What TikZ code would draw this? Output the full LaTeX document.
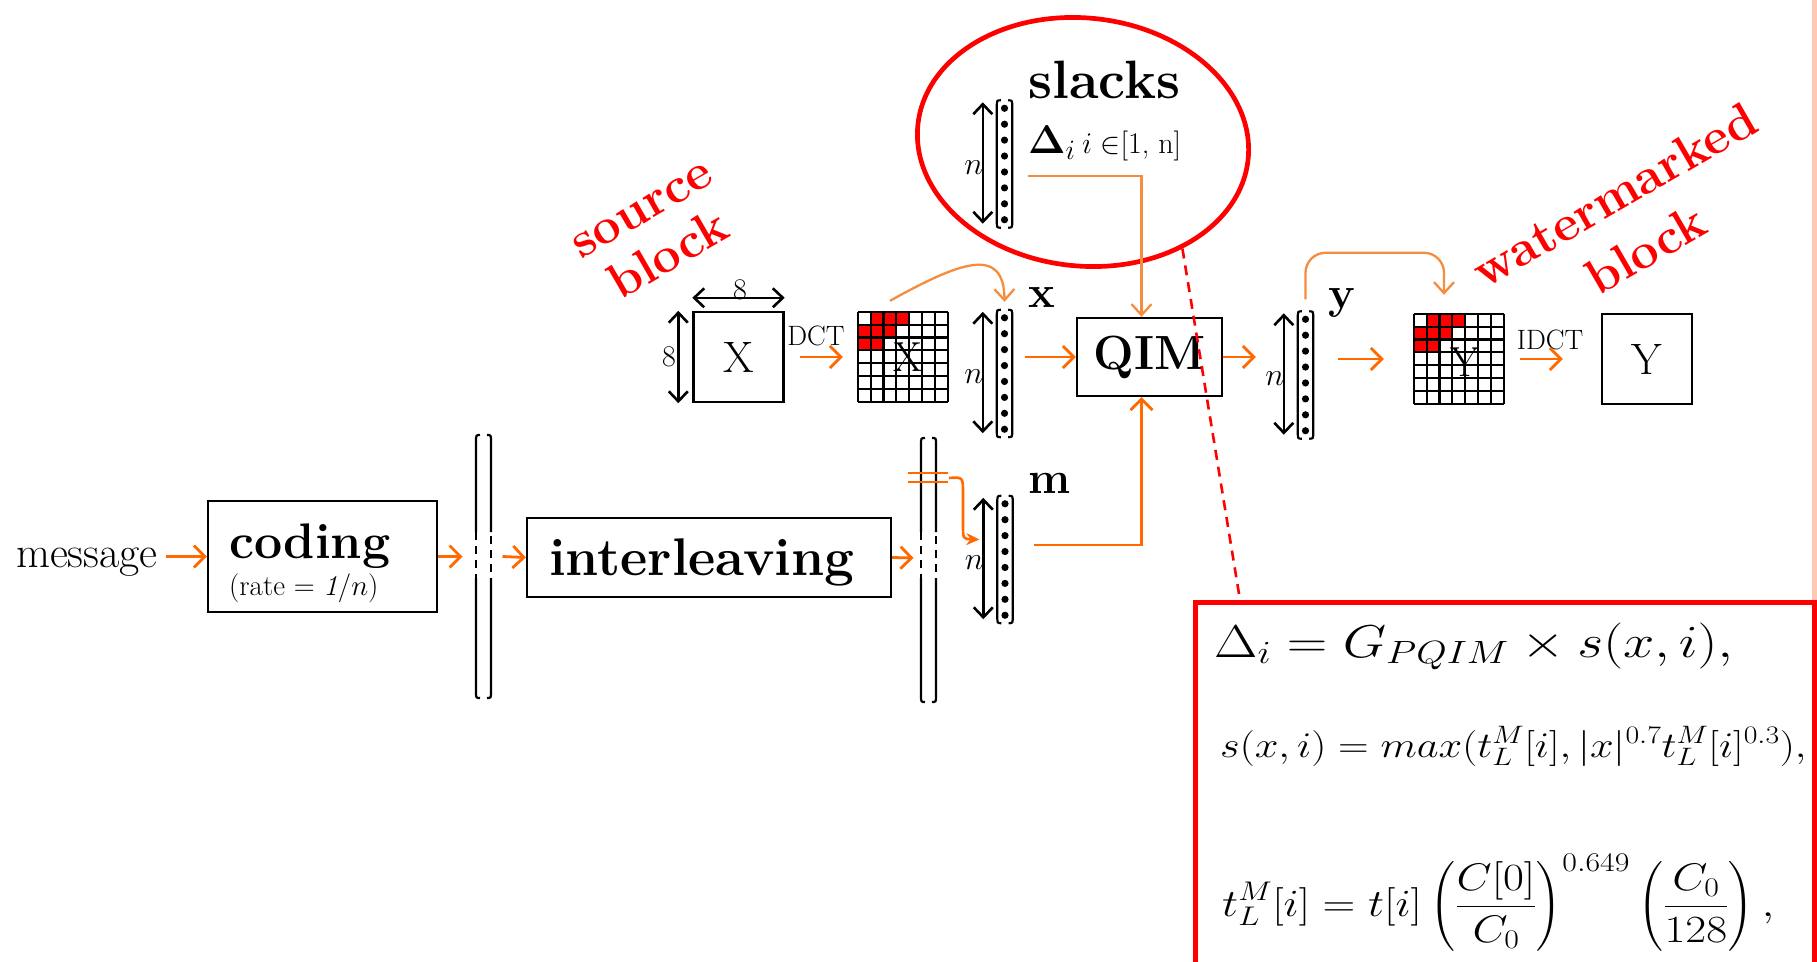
\RequirePackage{fix-cm}
\documentclass[tikz,border=0pt]{standalone}
\usepackage{amsmath}
\usepackage{graphicx}
\usepackage{tikz}
\usetikzlibrary{arrows.meta,calc,shapes.geometric}
\definecolor{cFlow}{RGB}{255,105,0}
\definecolor{cLink}{RGB}{246,140,62}
\definecolor{cMark}{RGB}{255,0,0}
\definecolor{cSlide}{RGB}{255,200,180}

\begin{document}
\begin{tikzpicture}[x=1pt, y=-1pt,
  flowarrow/.style={draw=cFlow, line width=2.8pt, -{Straight Barb[length=11pt,width=22pt]}},
  linkarrow/.style={draw=cLink, line width=2.3pt, -{Straight Barb[length=11pt,width=20pt]}},
  dimarrow/.style={line width=2.6pt, {Straight Barb[length=10pt,width=19pt]}-{Straight Barb[length=10pt,width=19pt]}},
  blockbox/.style={draw, line width=2.4pt, inner sep=0pt},
  parenline/.style={line width=2.2pt},
  gridline/.style={line width=2.2pt},
  vecbox/.style={inner sep=0pt, minimum width=15pt, minimum height=127pt},
  fBig/.style={font=\fontsize{50}{55}\selectfont\bfseries},
  fLab/.style={font=\fontsize{45}{48}\selectfont\bfseries},
  fLet/.style={font=\fontsize{44}{48}\selectfont},
  fMsg/.style={font=\fontsize{44}{48}\selectfont},
  fSm/.style={font=\fontsize{28}{32}\selectfont},
  fN/.style={font=\fontsize{32}{36}\selectfont},
]
  \useasboundingbox (0,0) rectangle (1817,961);

  % ---- slide edge ----
  \fill[cSlide] (1812,0) rectangle (1817,961);

  % ---- coding chain ----
  \node[fMsg, inner sep=8pt] (msg) at (87,562) {message};
  \node[blockbox, minimum width=229pt, minimum height=111pt] (coding) at (322.5,556.5) {};
  \node[fBig, anchor=base west, inner sep=0pt] (codingt) at (229,558) {coding};
  \node[font=\fontsize{29}{32}\selectfont, anchor=base west, inner sep=0pt] (rate) at (229,595) {(rate = \textit{1}/$n$)};
  \node[blockbox, minimum width=364pt, minimum height=79pt] (inter) at (709,557.5) {};
  \node[font=\fontsize{53}{58}\selectfont\bfseries, anchor=base west, inner sep=0pt] (intert) at (549,575) {interleaving};

  % ---- the two buses (double lines, dashed where crossed) ----
  \coordinate (gap1) at (483.5,556.5);
  \coordinate (gap2) at (928.5,558);
  \foreach \bx/\bt/\bb in {476/435/698, 921/438/702}{
    \draw[parenline] (\bx+4,\bt) .. controls (\bx,\bt) .. (\bx,\bt+7) -- (\bx,532);
    \draw[parenline, dash pattern=on 8pt off 6pt] (\bx,532) -- (\bx,578);
    \draw[parenline] (\bx,578) -- (\bx,\bb-7) .. controls (\bx,\bb) .. (\bx+4,\bb);
    \draw[parenline] (\bx+11,\bt) .. controls (\bx+15,\bt) .. (\bx+15,\bt+7) -- (\bx+15,532);
    \draw[parenline, dash pattern=on 8pt off 6pt] (\bx+15,536) -- (\bx+15,578);
    \draw[parenline] (\bx+15,578) -- (\bx+15,\bb-7) .. controls (\bx+15,\bb) .. (\bx+11,\bb);
  }

  \draw[flowarrow] (msg.east |- coding.west) -- (coding.west);
  \draw[flowarrow] (coding.east) -- ([xshift=-21pt]gap1);
  \draw[flowarrow] ([xshift=19pt]gap1) -- (inter.west);
  \draw[flowarrow] (inter.east) -- ([xshift=-15pt]gap2);

  % ---- column vectors ----
  \foreach \nm/\cx/\cy in {svec/1004.5/164, xvec/1004.5/373.5, mvec/1005/559.5, yvec/1305.5/375}{
    \node[vecbox] (\nm) at (\cx,\cy) {};
    \draw[parenline] ([xshift=4pt]\nm.north west) .. controls (\nm.north west) .. ([yshift=-7pt]\nm.north west)
      -- ([yshift=7pt]\nm.south west) .. controls (\nm.south west) .. ([xshift=4pt]\nm.south west);
    \draw[parenline] ([xshift=-4pt]\nm.north east) .. controls (\nm.north east) .. ([yshift=-7pt]\nm.north east)
      -- ([yshift=7pt]\nm.south east) .. controls (\nm.south east) .. ([xshift=-4pt]\nm.south east);
    \foreach \k in {1,...,8}
      \fill ($(\nm.north)!{(\k-0.5)/8}!(\nm.south)$) circle (3.6pt);
    \draw[dimarrow] ([xshift=-14pt,yshift=-2pt]\nm.north west) -- ([xshift=-14pt,yshift=4pt]\nm.south west);
    \node[fN] (\nm-n) at ([xshift=-23pt,yshift=-3.5pt]\nm.west) {$n$};
  }
  \node[fLab, anchor=base] (xlab) at (1042,307) {x};
  \node[fLab, anchor=base] (ylab) at (1342,308) {y};
  \node[fLab, anchor=base] (mlab) at (1050,493) {m};

  % tap from the second bus into m
  \draw[cFlow, line width=2.6pt] (908,473) -- (948,473) (908,482) -- (948,482);
  \coordinate (mtap) at (949,478);
  \draw[cFlow, line width=2.6pt, -{Stealth[length=13pt,width=12pt]}] (mtap) .. controls (963,477) .. (963,494)
    -- (963,524) .. controls (963,539) .. ([xshift=-18pt,yshift=20pt]mvec.west);

  % ---- slacks ----
  \node[ellipse, draw=cMark, line width=4.7pt, minimum width=332pt, minimum height=248pt, rotate=-6] (slk) at (1083,142) {};
  \node[font=\fontsize{54}{58}\selectfont\bfseries, anchor=base west, inner sep=0pt] (slkt) at (1028,98) {slacks};
  \node[anchor=base west, inner sep=0pt] (slkd) at (1028,153)
    {\fontsize{40}{44}\selectfont$\boldsymbol{\Delta}_{i}$\,\fontsize{30}{34}\selectfont$i\in$[1, n]};

  % ---- QIM ----
  \node[blockbox, font=\fontsize{48}{52}\selectfont\bfseries, minimum width=145pt, minimum height=78pt] (qim) at (1149.5,357) {QIM};
  \draw[linkarrow] ([xshift=16pt,yshift=-12pt]svec.east) -| ([xshift=-8pt]qim.north);
  \draw[flowarrow] ([xshift=13pt,yshift=16.5pt]xvec.east) -- (qim.west);
  \draw[flowarrow] ([xshift=21pt,yshift=14.5pt]mvec.east) -| ([xshift=-8pt]qim.south);
  \draw[flowarrow] (qim.east) -- ([xshift=-42pt,yshift=18pt]yvec.west);

  % ---- source block X and its DCT ----
  \node[blockbox, fLet, minimum size=90pt] (xbox) at (738.5,357) {X};
  \draw[dimarrow] ([yshift=13pt]xbox.north west) -- ([yshift=13pt]xbox.north east);
  \node[font=\fontsize{30}{34}\selectfont, anchor=base, inner sep=0pt] (xw) at (740,299) {8};
  \draw[dimarrow] ([xshift=-14pt]xbox.north west) -- ([xshift=-14pt]xbox.south west);
  \node[font=\fontsize{30}{34}\selectfont, inner sep=0pt] (xh) at (669,357) {8};

  \node[inner sep=0pt, minimum size=90pt] (xgrid) at (903,357) {};
  \node[inner sep=0pt, minimum size=90pt] (ygrid) at (1459,359) {};
  \foreach \g in {xgrid,ygrid}{
    \foreach \gc/\gr in {1/0,2/0,3/0,0/1,1/1,2/1,0/2,1/2}
      \fill[cMark] ($(\g.north west)+(\gc*90/7,\gr*90/7)$) rectangle +(90/7,90/7);
    \foreach \k in {0,...,7}{
      \draw[gridline] ($(\g.north west)+(\k*90/7,0)$) -- +(0,90);
      \draw[gridline] ($(\g.north west)+(0,\k*90/7)$) -- +(90,0);
    }
  }
  \node[font=\fontsize{42}{46}\selectfont] (xgridl) at (908,357) {X};
  \node[font=\fontsize{42}{46}\selectfont] (ygridl) at (1465,362) {Y};

  \node[fSm] (dct) at (816,336) {DCT};
  \draw[flowarrow] ([xshift=15pt]xbox.east) -- ([xshift=-15pt]xgrid.west);
  \draw[linkarrow] ([xshift=-13pt,yshift=11pt]xgrid.north) .. controls (960,262) and (1004,245) .. ([yshift=8pt]xvec.north);

  % ---- watermarked block Y ----
  \node[blockbox, fLet, minimum size=90pt] (ybox) at (1647,359) {Y};
  \draw[flowarrow] ([xshift=25pt,yshift=16pt]yvec.east) -- ([xshift=-30pt]ygrid.west);
  \draw[linkarrow, rounded corners=20pt] ([yshift=12pt]yvec.north) |- ([xshift=-15pt,yshift=61pt]ygrid.north)
    -- ([xshift=-15pt,yshift=19pt]ygrid.north);
  \node[fSm] (idct) at (1550,340) {IDCT};
  \draw[flowarrow] ([xshift=16pt]ygrid.east) -- ([xshift=-38pt]ybox.west);

  % ---- red notes ----
  \node[font=\fontsize{50}{55}\selectfont\bfseries, text=cMark, rotate=30, align=center] (srcl) at (657,235) {source\\block};
  \node[font=\fontsize{50}{63}\selectfont\bfseries, text=cMark, rotate=30, align=center] (wml) at (1630,222) {watermarked\\block};

  % ---- slack formula ----
  \node[draw=cMark, line width=5pt, inner sep=0pt, minimum width=619pt, minimum height=420pt, anchor=north west] (fbox) at (1193,600) {};
  \draw[cMark, line width=2.6pt, dash pattern=on 10pt off 7pt] (slk.-41) -- ([xshift=47pt]fbox.north west);
  \node[anchor=base west, inner sep=0pt, font=\fontsize{46}{50}\selectfont] (eq1) at (1214,657)
    {\scalebox{1.22}[1]{$\Delta_i = G_{PQIM} \times s(x,i),$}};
  \node[anchor=base west, inner sep=0pt, font=\fontsize{36}{40}\selectfont] (eq2) at (1220,757)
    {\scalebox{1.18}[1]{$s(x,i) = max(t_L^M[i], |x|^{0.7} t_L^M[i]^{0.3}),$}};
  \node[anchor=west, inner sep=0pt, font=\fontsize{38.5}{42}\selectfont] (eq3) at (1222,903)
    {\scalebox{1.18}[1]{$\displaystyle t_L^M[i] = t[i]\left(\frac{C[0]}{C_0}\right)^{0.649} \left(\frac{C_0}{128}\right),$}};
\end{tikzpicture}
\end{document}
